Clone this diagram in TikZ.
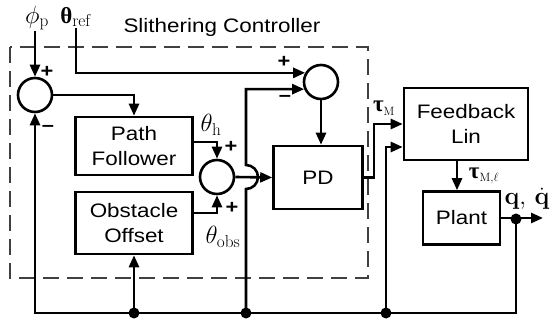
\documentclass[tikz,border=0pt]{standalone}
\usepackage{amsmath,amssymb}
\usepackage[no-math]{fontspec}
\setmainfont{Liberation Sans}[FakeStretch=1.15]
\newfontfamily\grkfont{Liberation Serif}
\newcommand{\bgrk}[1]{\text{\grkfont\bfseries #1}}
\usetikzlibrary{arrows.meta,positioning}

\begin{document}
\begin{tikzpicture}[x=1pt, y=-1pt, font=\fontsize{19.5}{25}\selectfont,
  blk/.style={draw, line width=2.6pt, align=center, inner sep=2pt},
  sumc/.style={draw, circle, line width=2.6pt, minimum size=34pt, inner sep=0pt},
  flow/.style={-{Triangle[length=12pt, width=10pt]}, line width=2.6pt},
  dot/.style={circle, fill, inner sep=0pt, minimum size=11pt},
  mlab/.style={font=\fontsize{23}{24}\selectfont, inner sep=1pt},
  sgn/.style={font=\fontsize{19}{19}\selectfont\bfseries, inner sep=0pt}]
\useasboundingbox (0,0) rectangle (554,320);
% controller frame
\draw[line width=2.4pt, black!75, dash pattern=on 16pt off 8pt] (10,47) rectangle (368,278);
\node (title) at (222,27) {Slithering Controller};
\node[mlab] (phip) at (37,18) {$\phi_{\mathrm{p}}$};
\node[mlab] (thref) at (76,17) {$\bgrk{θ}_{\mathrm{ref}}$};
\node[sumc] (sumA) at (35,95) {};
\node[sumc] (sumB) at (321,82) {};
\node[sumc] (sumC) at (217,177) {};
\node[blk, minimum width=117pt, minimum height=58pt] (pathf) at (134,146) {Path\\Follower};
\node[blk, minimum width=117pt, minimum height=62pt] (obst) at (134,223) {Obstacle\\Offset};
\node[blk, minimum width=89pt, minimum height=63pt] (pd) at (318,177.5) {PD};
\node[blk, minimum width=124pt, minimum height=72pt] (fbl) at (466,124) {Feedback\\Lin};
\node[blk, minimum width=77pt, minimum height=53pt] (plant) at (461.5,218) {Plant};
\coordinate (jO) at (134,313);
\coordinate (jB) at (246,313);
\coordinate (jD) at (386,313);
\coordinate (jP) at (516,219);
\coordinate (corner) at (35,313);
\coordinate (out) at (543,219);
% signals
\draw[flow] (sumA |- phip.south) -- (sumA.north);
\draw[flow] (thref.south) |- (sumB.150);
\draw[flow] (sumA.east) -| (pathf.north);
\draw[flow] ([yshift=4pt]pathf.east) -| (sumC.north);
\draw[flow] ([yshift=10pt]obst.east) -| (sumC.south);
\draw[flow] (sumC.east) -- (pd.west);
\draw[flow] (jB) -- ++(0,-124) arc[start angle=-90, end angle=90, radius=12pt] |- (sumB.203);
\draw[flow] (sumB.south) -- (sumB.south |- pd.north);
\draw[flow] (pd.east) -- ++(10,0) |- (fbl.west);
\draw[flow] (jD) |- ([yshift=-23pt]fbl.west);
\draw[flow] ([xshift=-9pt]fbl.south) -- ([xshift=-9pt]fbl.south |- plant.north);
\draw[flow] (plant.east) -- (plant.east -| out);
\draw[flow] (jP) |- (corner) -- (sumA.south);
\draw[flow] (jO) -- (obst.south);
\foreach \p in {jO,jB,jD,jP}
  \node[dot] at (\p) {};
% labels
\node[mlab] (lth) at (211,125) {$\theta_{\mathrm{h}}$};
\node[mlab] (lobs) at (223,237) {$\theta_{\mathrm{obs}}$};
\node[mlab] (ltm) at (384,108) {$\bgrk{τ}_{\scriptscriptstyle\mathrm{M}}$};
\node[mlab] (ltml) at (484,176) {$\bgrk{τ}_{\scriptscriptstyle\mathrm{M},\ell}$};
\node[mlab] (lq) at (527,199) {$\mathbf{q},\,\dot{\mathbf{q}}$};
\node[sgn] (pA) at (47,72) {+};
\node[sgn] (mA) at (48,128) {--};
\node[sgn] (pB) at (284,62) {+};
\node[sgn] (mB) at (285,98) {--};
\node[sgn] (pC1) at (231,147) {+};
\node[sgn] (pC2) at (232,208) {+};
\end{tikzpicture}
\end{document}
